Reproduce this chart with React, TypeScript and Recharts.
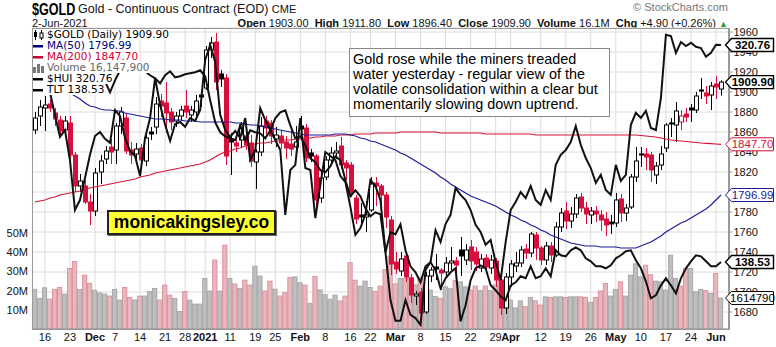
import React from "react";
import { ComposedChart, Bar, Line, XAxis, YAxis, CartesianGrid } from "recharts";

// trading days shown on the chart
const dates = [
  "2020-11-12", "2020-11-13", "2020-11-16", "2020-11-17", "2020-11-18", "2020-11-19", "2020-11-20", "2020-11-23", "2020-11-24", "2020-11-25",
  "2020-11-27", "2020-11-30", "2020-12-01", "2020-12-02", "2020-12-03", "2020-12-04", "2020-12-07", "2020-12-08", "2020-12-09", "2020-12-10",
  "2020-12-11", "2020-12-14", "2020-12-15", "2020-12-16", "2020-12-17", "2020-12-18", "2020-12-21", "2020-12-22", "2020-12-23", "2020-12-24",
  "2020-12-28", "2020-12-29", "2020-12-30", "2020-12-31", "2021-01-04", "2021-01-05", "2021-01-06", "2021-01-07", "2021-01-08", "2021-01-11",
  "2021-01-12", "2021-01-13", "2021-01-14", "2021-01-15", "2021-01-19", "2021-01-20", "2021-01-21", "2021-01-22", "2021-01-25", "2021-01-26",
  "2021-01-27", "2021-01-28", "2021-01-29", "2021-02-01", "2021-02-02", "2021-02-03", "2021-02-04", "2021-02-05", "2021-02-08", "2021-02-09",
  "2021-02-10", "2021-02-11", "2021-02-12", "2021-02-16", "2021-02-17", "2021-02-18", "2021-02-19", "2021-02-22", "2021-02-23", "2021-02-24",
  "2021-02-25", "2021-02-26", "2021-03-01", "2021-03-02", "2021-03-03", "2021-03-04", "2021-03-05", "2021-03-08", "2021-03-09", "2021-03-10",
  "2021-03-11", "2021-03-12", "2021-03-15", "2021-03-16", "2021-03-17", "2021-03-18", "2021-03-19", "2021-03-22", "2021-03-23", "2021-03-24",
  "2021-03-25", "2021-03-26", "2021-03-29", "2021-03-30", "2021-03-31", "2021-04-01", "2021-04-05", "2021-04-06", "2021-04-07", "2021-04-08",
  "2021-04-09", "2021-04-12", "2021-04-13", "2021-04-14", "2021-04-15", "2021-04-16", "2021-04-19", "2021-04-20", "2021-04-21", "2021-04-22",
  "2021-04-23", "2021-04-26", "2021-04-27", "2021-04-28", "2021-04-29", "2021-04-30", "2021-05-03", "2021-05-04", "2021-05-05", "2021-05-06",
  "2021-05-07", "2021-05-10", "2021-05-11", "2021-05-12", "2021-05-13", "2021-05-14", "2021-05-17", "2021-05-18", "2021-05-19", "2021-05-20",
  "2021-05-21", "2021-05-24", "2021-05-25", "2021-05-26", "2021-05-27", "2021-05-28", "2021-06-01", "2021-06-02",
];

const opens = [
  1862, 1876, 1884, 1888, 1879, 1872, 1862, 1869, 1837, 1806,
  1806, 1790, 1781, 1820, 1833, 1845, 1842, 1866, 1874, 1842,
  1838, 1844, 1831, 1860, 1865, 1891, 1889, 1880, 1871, 1876,
  1886, 1877, 1880, 1897, 1904, 1942, 1950, 1918, 1914, 1853,
  1849, 1852, 1856, 1849, 1830, 1840, 1871, 1869, 1853, 1856,
  1850, 1848, 1845, 1866, 1864, 1839, 1836, 1794, 1815, 1832,
  1839, 1846, 1829, 1827, 1794, 1777, 1775, 1782, 1809, 1806,
  1797, 1772, 1730, 1721, 1736, 1714, 1696, 1700, 1680, 1716,
  1725, 1722, 1720, 1729, 1731, 1742, 1732, 1745, 1740, 1724,
  1734, 1724, 1731, 1712, 1684, 1715, 1726, 1729, 1743, 1739,
  1757, 1744, 1732, 1746, 1737, 1765, 1781, 1771, 1778, 1795,
  1784, 1777, 1781, 1777, 1773, 1770, 1769, 1793, 1779, 1785,
  1815, 1838, 1838, 1837, 1817, 1827, 1844, 1869, 1867, 1870,
  1878, 1884, 1882, 1902, 1899, 1897, 1908, 1903,
];
const highs = [
  1880, 1892, 1896, 1893, 1884, 1876, 1876, 1876, 1840, 1818,
  1812, 1798, 1824, 1837, 1846, 1853, 1869, 1885, 1878, 1850,
  1849, 1848, 1857, 1865, 1895, 1898, 1910, 1884, 1880, 1886,
  1902, 1886, 1897, 1901, 1946, 1955, 1959, 1922, 1918, 1859,
  1856, 1870, 1866, 1857, 1843, 1875, 1876, 1872, 1865, 1862,
  1856, 1866, 1866, 1876, 1868, 1843, 1838, 1822, 1836, 1845,
  1850, 1855, 1832, 1830, 1797, 1789, 1791, 1815, 1815, 1808,
  1800, 1776, 1740, 1740, 1740, 1718, 1701, 1704, 1720, 1725,
  1738, 1724, 1735, 1745, 1735, 1755, 1748, 1752, 1745, 1738,
  1738, 1737, 1734, 1713, 1719, 1732, 1740, 1746, 1748, 1760,
  1760, 1746, 1750, 1750, 1770, 1784, 1790, 1785, 1798, 1799,
  1790, 1785, 1786, 1782, 1780, 1777, 1799, 1798, 1788, 1818,
  1845, 1845, 1844, 1840, 1830, 1846, 1869, 1874, 1890, 1882,
  1884, 1888, 1900, 1914, 1906, 1910, 1916, 1911.8,
];
const lows = [
  1858, 1866, 1861, 1880, 1866, 1855, 1855, 1833, 1800, 1800,
  1788, 1767, 1776, 1808, 1828, 1828, 1828, 1858, 1838, 1828,
  1832, 1822, 1826, 1852, 1858, 1875, 1859, 1862, 1865, 1871,
  1874, 1870, 1876, 1885, 1902, 1934, 1902, 1905, 1827, 1817,
  1840, 1845, 1842, 1825, 1803, 1836, 1858, 1848, 1845, 1843,
  1833, 1836, 1837, 1856, 1830, 1830, 1784, 1789, 1812, 1826,
  1833, 1823, 1812, 1795, 1768, 1765, 1760, 1780, 1786, 1785,
  1764, 1717, 1718, 1716, 1710, 1689, 1687, 1673, 1678, 1710,
  1712, 1702, 1715, 1722, 1720, 1716, 1727, 1722, 1721, 1720,
  1718, 1718, 1705, 1677, 1678, 1705, 1720, 1725, 1733, 1735,
  1732, 1727, 1727, 1730, 1735, 1760, 1763, 1764, 1774, 1780,
  1768, 1768, 1770, 1761, 1756, 1758, 1765, 1770, 1771, 1783,
  1810, 1825, 1822, 1810, 1808, 1822, 1840, 1855, 1850, 1862,
  1870, 1870, 1879, 1893, 1888, 1882, 1893, 1896.4,
];
const closes = [
  1874, 1885, 1887, 1884, 1873, 1861, 1871, 1837, 1806, 1811,
  1790, 1781, 1819, 1831, 1841, 1840, 1866, 1880, 1841, 1837,
  1843, 1832, 1854, 1858, 1888, 1886, 1879, 1870, 1876, 1882,
  1880, 1882, 1891, 1895, 1942, 1949, 1910, 1913, 1836, 1850,
  1846, 1867, 1847, 1831, 1840, 1866, 1864, 1856, 1857, 1849,
  1844, 1843, 1850, 1863, 1834, 1836, 1792, 1814, 1832, 1839,
  1841, 1827, 1824, 1799, 1773, 1775, 1777, 1808, 1806, 1797,
  1775, 1728, 1723, 1733, 1715, 1697, 1698, 1679, 1716, 1722,
  1723, 1719, 1729, 1731, 1727, 1736, 1742, 1731, 1728, 1733,
  1725, 1732, 1712, 1684, 1715, 1728, 1729, 1742, 1739, 1758,
  1744, 1732, 1746, 1737, 1765, 1779, 1771, 1778, 1794, 1784,
  1778, 1781, 1778, 1772, 1767, 1768, 1792, 1779, 1784, 1815,
  1831, 1837, 1835, 1822, 1826, 1838, 1867, 1868, 1881, 1876,
  1875, 1882, 1896, 1901, 1896, 1906, 1905, 1909.9,
];
// volume in millions of contracts
const volumes = [
  20.7, 16.0, 21.5, 15.6, 20.7, 21.7, 18.2, 31.6, 35.2, 20.7,
  28.1, 23.8, 20.2, 18.8, 18.2, 17.2, 20.7, 15.1, 21.7, 16.5,
  15.1, 17.2, 17.2, 19.5, 21.2, 15.1, 22.9, 17.7, 16.0, 9.1,
  19.5, 15.1, 13.0, 13.0, 26.4, 19.8, 36.0, 19.8, 43.8, 26.4,
  23.5, 21.2, 25.5, 22.9, 32.8, 27.6, 19.8, 25.0, 20.8, 17.2,
  18.9, 26.9, 27.2, 24.1, 22.9, 13.4, 27.4, 20.4, 17.9, 15.5,
  17.7, 14.6, 17.2, 34.6, 25.5, 22.4, 25.0, 21.7, 19.5, 22.4,
  31.0, 38.0, 23.5, 26.4, 26.4, 27.0, 23.0, 27.0, 22.0, 20.3,
  17.0, 16.0, 22.0, 21.0, 25.2, 24.6, 22.0, 20.3, 22.4, 20.0,
  22.4, 20.0, 23.0, 25.5, 16.0, 15.1, 11.0, 14.7, 11.6, 16.5,
  14.7, 12.5, 16.8, 16.5, 16.8, 16.8, 16.5, 16.8, 16.8, 16.8,
  16.5, 14.0, 16.5, 19.8, 23.8, 17.2, 20.7, 24.6, 17.2, 28.1,
  34.0, 27.2, 33.3, 28.3, 25.0, 24.6, 20.3, 38.5, 26.4, 22.4,
  31.6, 31.6, 19.4, 20.7, 20.0, 18.6, 29.0, 16.1479,
];
const hui = [
  310.0, 311.5, 312.5, 309.0, 303.3, 297.8, 299.5, 292.0, 279.5, 282.0,
  287.5, 293.3, 298.0, 299.0, 297.3, 296.3, 304.5, 303.0, 297.5, 294.3,
  293.0, 288.0, 297.5, 302.5, 312.5, 305.8, 300.8, 296.8, 301.0, 301.5,
  300.3, 302.5, 301.8, 304.5, 317.0, 320.8, 316.5, 303.3, 299.5, 297.8,
  299.3, 297.5, 302.5, 292.0, 294.5, 305.0, 302.0, 299.5, 297.0, 294.5,
  278.3, 289.5, 290.8, 302.5, 290.0, 289.5, 277.5, 285.8, 294.0, 293.0,
  292.0, 288.0, 286.5, 280.3, 273.3, 275.0, 278.5, 287.0, 285.5, 282.0,
  269.0, 257.0, 251.8, 251.8, 257.0, 253.3, 252.5, 250.8, 264.5, 266.5,
  274.5, 271.5, 276.0, 278.3, 285.0, 283.3, 282.0, 279.5, 275.8, 274.0,
  270.8, 272.0, 266.5, 262.0, 271.5, 279.5, 281.5, 284.0, 282.5, 285.5,
  282.0, 280.8, 284.5, 282.0, 290.8, 293.3, 294.5, 296.5, 300.5, 295.8,
  292.5, 290.0, 286.3, 288.3, 284.5, 283.3, 290.8, 286.8, 288.3, 300.8,
  303.8, 302.5, 304.3, 300.0, 299.5, 307.5, 323.3, 323.0, 318.8, 321.5,
  320.5, 321.3, 320.3, 320.0, 317.8, 318.8, 320.8, 320.76,
];
const tlt = [
  157.5, 157.9, 157.2, 158.1, 158.0, 158.5, 158.9, 157.7, 157.3, 157.6,
  158.4, 158.1, 156.7, 157.2, 156.6, 155.5, 156.7, 157.7, 158.3, 158.4,
  158.6, 158.1, 157.6, 157.2, 156.9, 156.4, 157.2, 157.6, 157.0, 157.1,
  157.3, 157.4, 157.5, 157.7, 157.1, 154.7, 152.5, 151.5, 151.1, 150.9,
  150.7, 152.2, 150.7, 151.7, 151.5, 151.4, 150.9, 151.7, 152.9, 153.5,
  153.7, 152.2, 150.9, 151.1, 150.2, 148.9, 148.5, 147.7, 147.5, 148.1,
  149.1, 148.7, 146.7, 145.1, 145.7, 145.1, 143.9, 143.1, 143.5, 143.3,
  139.5, 141.5, 141.3, 142.3, 139.7, 138.1, 137.5, 136.5, 138.1, 138.5,
  137.7, 135.9, 136.9, 137.5, 137.9, 132.6, 134.2, 136.7, 137.9, 138.2,
  137.9, 136.2, 135.7, 135.1, 134.7, 136.2, 136.5, 137.1, 136.9, 138.1,
  136.9, 137.1, 137.9, 137.1, 139.7, 139.2, 139.1, 139.7, 140.0, 139.7,
  138.9, 138.6, 138.1, 138.1, 137.9, 138.2, 138.9, 139.2, 139.6, 139.7,
  138.7, 137.9, 136.6, 134.9, 135.2, 136.2, 136.9, 136.2, 135.4, 136.9,
  137.9, 138.6, 139.2, 139.1, 138.6, 138.1, 138.1, 138.53,
];
const ma50 = [
  1912, 1911, 1910, 1908, 1906, 1903, 1901, 1899, 1896, 1893,
  1889, 1886, 1885, 1883, 1882, 1882, 1881, 1881, 1879, 1878,
  1877, 1876, 1875, 1874, 1873, 1873, 1873, 1872, 1872, 1872,
  1871, 1871, 1871, 1870, 1870, 1870, 1870, 1870, 1870, 1870,
  1869, 1869, 1868, 1867, 1867, 1866, 1865, 1864, 1863, 1862,
  1861, 1860, 1859, 1858, 1857, 1857, 1857, 1857, 1857, 1857,
  1858, 1858, 1858, 1857, 1856, 1854, 1853, 1851, 1850, 1848,
  1846, 1844, 1842, 1839, 1837, 1834, 1831, 1828, 1825, 1822,
  1819, 1815, 1812, 1808, 1805, 1802, 1799, 1796, 1794, 1792,
  1790, 1788, 1786, 1783, 1780, 1777, 1775, 1772, 1770, 1767,
  1765, 1762, 1760, 1757, 1755, 1753, 1751, 1749, 1748, 1747,
  1746, 1746, 1746, 1745, 1745, 1745, 1745, 1744, 1744, 1744,
  1744, 1746, 1748, 1750, 1753, 1756, 1760, 1763, 1766, 1769,
  1771, 1774, 1777, 1780, 1783, 1787, 1792, 1796.99,
];
const ma200 = [
  1790, 1791, 1792, 1794, 1795, 1797, 1798, 1799, 1800, 1801,
  1803, 1804, 1805, 1806, 1807, 1808, 1809, 1810, 1811, 1812,
  1813, 1815, 1816, 1817, 1819, 1820, 1821, 1822, 1823, 1824,
  1825, 1826, 1827, 1828, 1830, 1832, 1835, 1838, 1840, 1841,
  1843, 1844, 1846, 1847, 1848, 1849, 1849, 1850, 1851, 1851,
  1852, 1852, 1853, 1853, 1854, 1854, 1855, 1855, 1856, 1856,
  1856, 1857, 1857, 1857, 1858, 1858, 1858, 1858, 1859, 1859,
  1859, 1859, 1859, 1860, 1860, 1860, 1860, 1860, 1860, 1860,
  1860, 1859, 1859, 1859, 1859, 1859, 1859, 1859, 1859, 1859,
  1858, 1858, 1858, 1858, 1858, 1858, 1858, 1858, 1858, 1858,
  1857, 1857, 1857, 1857, 1857, 1857, 1857, 1857, 1857, 1857,
  1857, 1857, 1857, 1857, 1857, 1857, 1857, 1857, 1857, 1857,
  1857, 1856.5, 1856, 1855.5, 1855, 1854, 1853, 1852, 1851.5, 1851,
  1850.5, 1850, 1849.5, 1849, 1848.7, 1848.3, 1848, 1847.7,
];

const tickDates = [
  "2020-11-16", "2020-11-23", "2020-12-01", "2020-12-07", "2020-12-14", "2020-12-21", "2020-12-28",
  "2021-01-04", "2021-01-11", "2021-01-19", "2021-01-25", "2021-02-01", "2021-02-08", "2021-02-16",
  "2021-02-22", "2021-03-01", "2021-03-08", "2021-03-15", "2021-03-22", "2021-03-29", "2021-04-01",
  "2021-04-12", "2021-04-19", "2021-04-26", "2021-05-03", "2021-05-10", "2021-05-17", "2021-05-24", "2021-06-01",
];
const tickLabels = [
  "16", "23", "Dec", "7", "14", "21", "28", "2021", "11", "19", "25", "Feb", "8", "16",
  "22", "Mar", "8", "15", "22", "29", "Apr", "12", "19", "26", "May", "10", "17", "24", "Jun",
];
const priceTicks = [1680, 1700, 1720, 1740, 1760, 1780, 1800, 1820, 1840, 1860, 1880, 1900, 1920, 1940, 1960];
const volTicks = [10e6, 20e6, 30e6, 40e6, 50e6];

// last values shown in the tags on the right edge
const lastTags = [
  { axis: "hui", value: 320.76, text: "320.76", color: "#000", bold: true },
  { axis: "price", value: 1909.9, text: "1909.90", color: "#000", bold: true },
  { axis: "price", value: 1847.7, text: "1847.70", color: "#d6103c", bold: false },
  { axis: "price", value: 1796.99, text: "1796.99", color: "#1c1c9c", bold: false },
  { axis: "tlt", value: 138.53, text: "138.53", color: "#000", bold: true },
  { axis: "vol", value: 16147900, text: "1614790", color: "#000", bold: false },
];

const RED = "#d6103c";
const FONT = "'Liberation Sans', Arial, sans-serif";
const PLOT_TOP = 28;
const PLOT_H = 301;
const domains: Record<string, [number, number]> = {
  price: [1663, 1964],
  vol: [0, 157e6],
  hui: [249.76, 325.01],
  tlt: [131.83, 161.93],
};
const yOf = (axis: string, v: number) => {
  const [lo, hi] = domains[axis];
  return PLOT_TOP + ((hi - v) / (hi - lo)) * PLOT_H;
};

const labelFor: Record<string, string> = {};
tickDates.forEach((d, i) => (labelFor[d] = tickLabels[i]));

const data: any[] = dates.map((d, i) => {
  const down = i > 0 && closes[i] < closes[i - 1];
  return {
    d,
    o: opens[i],
    h: highs[i],
    l: lows[i],
    c: closes[i],
    col: down ? RED : "#000",
    hollow: closes[i] > opens[i],
    down,
    v: volumes[i] * 1e6,
    hui: hui[i],
    tlt: tlt[i],
    ma50: ma50[i],
    ma200: ma200[i],
  };
});
// one empty slot on the right edge, like the original
data.push({ d: "2021-06-03" });

const Candle = (props: any) => {
  const { x, y, width, height, payload } = props;
  if (!payload || payload.o == null) return null;
  const { o, h, l, c, col, hollow } = payload;
  const top = Math.min(y, y + height);
  const hh = Math.abs(height);
  const cx = Math.round(x + width / 2) + 0.5;
  const ppu = h === l ? 0 : hh / (h - l);
  const bt = top + (h - Math.max(o, c)) * ppu;
  const bb = top + (h - Math.min(o, c)) * ppu;
  return (
    <g>
      <line x1={cx} x2={cx} y1={top} y2={top + hh} stroke={col} strokeWidth={1} />
      <rect x={cx - 2} y={bt} width={4} height={Math.max(1, bb - bt)} fill={hollow ? "#fff" : col} stroke={col} strokeWidth={1} />
    </g>
  );
};

const VolBar = (props: any) => {
  const { x, y, width, height, payload } = props;
  if (!payload || payload.v == null) return null;
  const pink = payload.down;
  return (
    <rect
      x={x}
      y={Math.min(y, y + height)}
      width={width}
      height={Math.abs(height)}
      fill={pink ? "#e8b6bd" : "#bebebe"}
      stroke={pink ? "#d98893" : "#a0a0a0"}
      strokeWidth={0.8}
    />
  );
};

const XTick = ({ x, y, payload }: any) => {
  const lab = labelFor[payload.value] || "";
  return (
    <text x={x} y={y + 4} textAnchor="middle" fontFamily={FONT} fontSize={11} fontWeight={lab.length > 2 ? 700 : 400} fill="#111">
      {lab}
    </text>
  );
};

const PriceTick = ({ x, y, payload }: any) => (
  <text x={x} y={y + 4} textAnchor="start" fontFamily={FONT} fontSize={11} fill="#111">
    {payload.value}
  </text>
);

const VolTick = ({ y, payload }: any) => (
  <text x={28} y={y + 4} textAnchor="end" fontFamily={FONT} fontSize={11} fill="#111">
    {payload.value / 1e6 + "M"}
  </text>
);

const ValueTag = ({ yc, text, color, bold }: any) => {
  const x0 = 725.5;
  const w = 42;
  return (
    <g>
      <path
        d={`M${x0},${yc} L${x0 + 6},${yc - 6.5} L${x0 + 6 + w},${yc - 6.5} L${x0 + 6 + w},${yc + 6.5} L${x0 + 6},${yc + 6.5} Z`}
        fill="#fff"
        stroke={color}
        strokeWidth={bold ? 1.4 : 1}
      />
      <text x={x0 + 6 + w / 2} y={yc + 4} textAnchor="middle" fontFamily={FONT} fontSize={11.5} fontWeight={bold ? 700 : 400} fill={color}>
        {text}
      </text>
    </g>
  );
};

const legendRows = [
  { icon: "candle", text: "$GOLD (Daily) 1909.90", color: "#000" },
  { icon: "line", text: "MA(50) 1796.99", color: "#000080" },
  { icon: "line", text: "MA(200) 1847.70", color: "#cc0033" },
  { icon: "bars", text: "Volume 16,147,900", color: "#666" },
  { icon: "line", text: "$HUI 320.76", color: "#000" },
  { icon: "line", text: "TLT 138.53", color: "#000" },
];

const LegendIcon = ({ kind, color }: { kind: string; color: string }) => {
  if (kind === "candle")
    return (
      <svg width={12} height={10} style={{ marginRight: 2 }}>
        <line x1={2.5} x2={2.5} y1={0} y2={10} stroke="#000" />
        <rect x={1} y={2} width={3} height={5} fill="#000" />
        <line x1={8.5} x2={8.5} y1={0} y2={10} stroke="#000" />
        <rect x={7} y={3} width={3} height={5} fill="#fff" stroke="#000" />
      </svg>
    );
  if (kind === "bars")
    return (
      <svg width={12} height={10} style={{ marginRight: 2 }}>
        <rect x={0} y={4} width={3} height={6} fill="#777" />
        <rect x={4} y={1} width={3} height={9} fill="#777" />
        <rect x={8} y={3} width={3} height={7} fill="#777" />
      </svg>
    );
  return (
    <svg width={12} height={10} style={{ marginRight: 2 }}>
      <rect x={0} y={4} width={10} height={2.5} fill={color} />
    </svg>
  );
};

export default function App() {
  return (
    <div style={{ position: "relative", width: 776, height: 347, background: "#fff", overflow: "hidden", fontFamily: FONT }}>
      <style>{"body{margin:0;background:#fff}"}</style>

      {/* header */}
      <div style={{ position: "absolute", left: 32, top: 1, fontSize: 17, fontWeight: 700, transform: "scaleX(0.74)", transformOrigin: "left top", lineHeight: "17px" }}>
        $GOLD
      </div>
      <div style={{ position: "absolute", left: 78, top: 2, fontSize: 12.5, lineHeight: "14px", whiteSpace: "nowrap", color: "#111" }}>
        Gold - Continuous Contract (EOD) <span style={{ fontSize: 11 }}>CME</span>
      </div>
      <div style={{ position: "absolute", left: 32, top: 17, fontSize: 11, lineHeight: "12px", color: "#111" }}>2-Jun-2021</div>
      <div style={{ position: "absolute", right: 48, top: 17, fontSize: 11, lineHeight: "12px", whiteSpace: "nowrap", color: "#111" }}>
        <b>Open</b> 1903.00&nbsp; <b>High</b> 1911.80&nbsp; <b>Low</b> 1896.40&nbsp; <b>Close</b> 1909.90&nbsp; <b>Volume</b> 16.1M&nbsp; <b>Chg</b> +4.90 (+0.26%){" "}
        <span style={{ color: "#2a9d3a", fontSize: 9 }}>▲</span>
      </div>
      <div style={{ position: "absolute", right: 48, top: 1, fontSize: 11, lineHeight: "12px", color: "#777" }}>© StockCharts.com</div>

      <div style={{ position: "absolute", left: 0, top: 0 }}>
        <ComposedChart width={776} height={347} data={data} margin={{ top: 28, right: 0, bottom: 0, left: 0 }} barCategoryGap={0}>
          <CartesianGrid xAxisId="main" yAxisId="price" stroke="#dcdcdc" strokeWidth={1} />
          <XAxis
            xAxisId="main"
            dataKey="d"
            ticks={tickDates}
            interval={0}
            height={18}
            tick={<XTick />}
            tickLine={false}
            axisLine={{ stroke: "#999" }}
          />
          <XAxis xAxisId="vol" dataKey="d" hide />
          <YAxis
            yAxisId="price"
            orientation="right"
            width={47.5}
            domain={domains.price}
            ticks={priceTicks}
            interval={0}
            allowDataOverflow
            tick={<PriceTick />}
            tickSize={4}
            tickMargin={1}
            tickLine={{ stroke: "#999" }}
            axisLine={{ stroke: "#999" }}
          />
          <YAxis
            yAxisId="vol"
            orientation="left"
            width={32.4}
            domain={domains.vol}
            ticks={volTicks}
            interval={0}
            allowDataOverflow
            tick={<VolTick />}
            tickSize={4}
            tickMargin={1}
            tickLine={{ stroke: "#999" }}
            axisLine={{ stroke: "#999" }}
          />
          <YAxis yAxisId="hui" hide domain={domains.hui} allowDataOverflow />
          <YAxis yAxisId="tlt" hide domain={domains.tlt} allowDataOverflow />

          <Bar xAxisId="vol" yAxisId="vol" dataKey="v" barSize={4.3} shape={<VolBar />} isAnimationActive={false} />
          <Bar
            xAxisId="main"
            yAxisId="price"
            dataKey={(r: any) => (r.o == null ? null : [r.l, r.h])}
            barSize={4}
            shape={<Candle />}
            isAnimationActive={false}
          />
          <Line xAxisId="main" yAxisId="price" dataKey="ma200" stroke="#d8143a" strokeWidth={1.2} dot={false} activeDot={false} isAnimationActive={false} />
          <Line xAxisId="main" yAxisId="price" dataKey="ma50" stroke="#1c1c9c" strokeWidth={1.2} dot={false} activeDot={false} isAnimationActive={false} />
          <Line xAxisId="main" yAxisId="hui" dataKey="hui" stroke="#111" strokeWidth={2} dot={false} activeDot={false} isAnimationActive={false} />
          <Line xAxisId="main" yAxisId="tlt" dataKey="tlt" stroke="#111" strokeWidth={2} dot={false} activeDot={false} isAnimationActive={false} />
        </ComposedChart>
      </div>

      {/* plot frame */}
      <div style={{ position: "absolute", left: 32, top: 28, width: 696, height: 300, border: "1px solid #999", pointerEvents: "none" }} />

      {/* last-value tags, drawn above the axis labels */}
      <svg width={776} height={347} style={{ position: "absolute", left: 0, top: 0, pointerEvents: "none" }}>
        {lastTags.map((t) => (
          <ValueTag key={t.text} yc={yOf(t.axis, t.value)} text={t.text} color={t.color} bold={t.bold} />
        ))}
      </svg>

      {/* legend */}
      <div style={{ position: "absolute", left: 33, top: 29, fontFamily: "'DejaVu Sans', Verdana, sans-serif", fontSize: 10.5 }}>
        {legendRows.map((r) => (
          <div key={r.text} style={{ display: "flex", alignItems: "center", height: 11, lineHeight: "11px", background: "#fff", width: "fit-content", color: r.color, whiteSpace: "nowrap" }}>
            <LegendIcon kind={r.icon} color={r.color} />
            {r.text}
          </div>
        ))}
      </div>

      {/* annotation */}
      <div
        style={{
          position: "absolute",
          left: 349,
          top: 48,
          width: 256,
          height: 64,
          border: "1.5px solid #888",
          background: "#fff",
          padding: "3px 0 0 3px",
          fontSize: 14.4,
          lineHeight: "15px",
          color: "#000",
          whiteSpace: "nowrap",
        }}
      >
        Gold rose while the miners treaded
        <br />
        water yesterday - regular view of the
        <br />
        volatile consolidation within a clear but
        <br />
        momentarily slowing down uptrend.
      </div>

      <div
        style={{
          position: "absolute",
          left: 107,
          top: 210,
          width: 165,
          height: 21,
          border: "2px solid #222",
          boxShadow: "1px 1px 0 #666",
          background: "#ffff33",
          fontSize: 17.5,
          fontWeight: 700,
          lineHeight: "21px",
          textAlign: "center",
          color: "#000",
        }}
      >
        monicakingsley.co
      </div>
    </div>
  );
}
